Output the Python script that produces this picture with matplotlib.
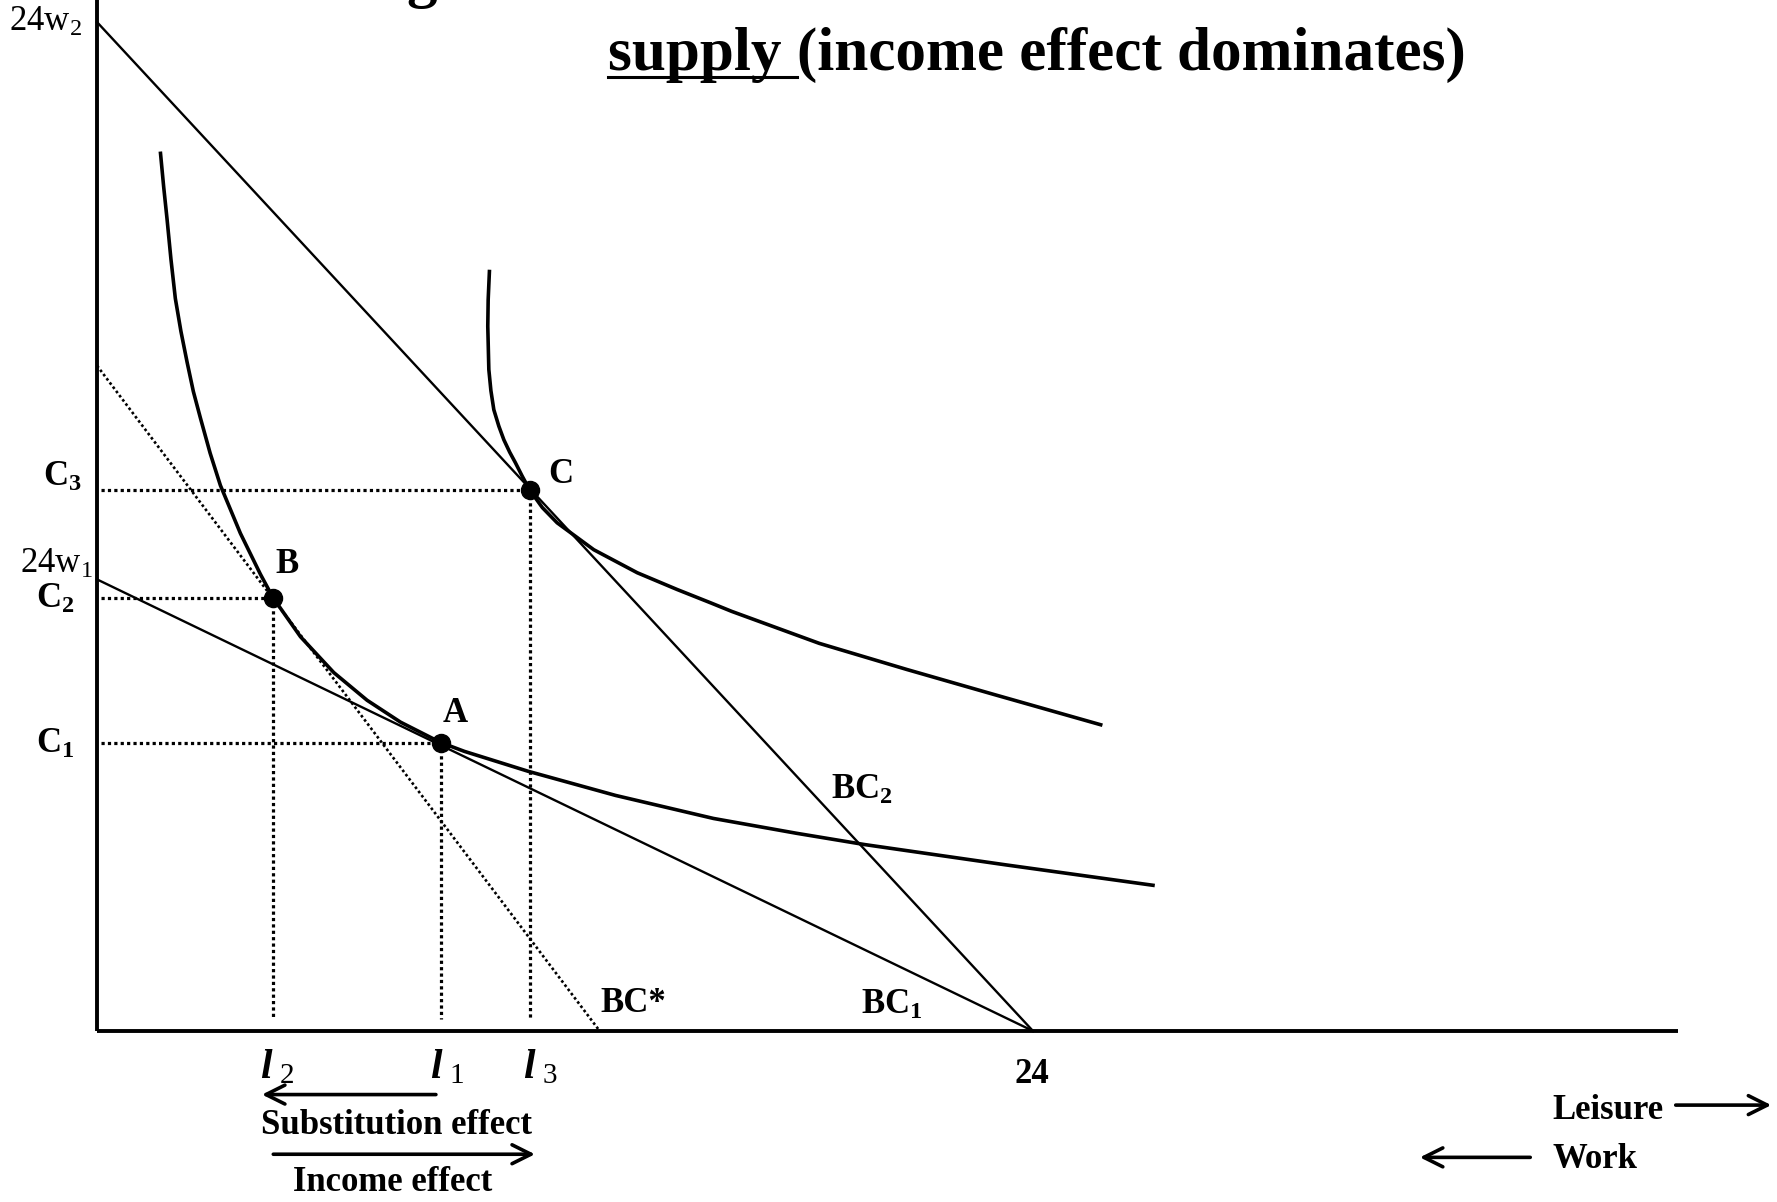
import matplotlib
matplotlib.use("Agg")
import numpy as np
import matplotlib.pyplot as plt

# leisure hours on x, consumption on y (same unit length on both axes)
hours = 24
bc1_top = 11.58      # 24w1
bc2_top = 25.87      # 24w2
bcs_top = 17.06      # BC* intercept on the C axis
bcs_end = 12.89      # BC* intercept on the leisure axis

pt_names = ["A", "B", "C"]
pt_x = [8.81, 4.514, 11.097]
pt_y = [7.38, 11.11, 13.87]

ic1_x = [1.624, 1.710, 1.796, 1.896, 2.009, 2.152, 2.310, 2.470, 2.651, 2.900,
         3.164, 3.677, 4.191, 4.514, 5.217, 6.072, 6.926, 7.781, 8.807, 9.420,
         10.061, 11.053, 13.298, 15.806, 17.935, 19.685, 23.301, 27.122]
ic1_y = [22.55, 21.64, 20.82, 19.79, 18.78, 17.94, 17.15, 16.40, 15.72, 14.82,
         13.99, 12.76, 11.71, 11.11, 10.11, 9.19, 8.48, 7.92, 7.40, 7.17,
         6.97, 6.66, 6.04, 5.45, 5.07, 4.78, 4.26, 3.73]

ic2_x = [10.064, 10.030, 10.020, 10.047, 10.100, 10.175, 10.303, 10.432, 10.583,
         10.729, 10.901, 11.097, 11.420, 11.799, 12.739, 13.853, 14.876, 15.731,
         16.273, 18.518, 20.764, 22.995, 25.780]
ic2_y = [19.52, 18.75, 18.07, 16.96, 16.42, 15.93, 15.51, 15.16, 14.84,
         14.57, 14.23, 13.87, 13.42, 13.03, 12.34, 11.75, 11.32, 10.98,
         10.76, 9.94, 9.27, 8.63, 7.84]

plt.rcParams['font.family'] = ['Liberation Serif', 'DejaVu Serif']
plt.rcParams['mathtext.fontset'] = 'custom'
plt.rcParams['mathtext.rm'] = 'Liberation Serif:bold'
plt.rcParams['mathtext.it'] = 'Liberation Serif:italic:bold'
plt.rcParams['mathtext.bf'] = 'Liberation Serif:bold'

W, H = 1777, 1202
px = 39.0            # pixels per unit
ox, oy = 97, 1031    # origin in pixels

fig = plt.figure(figsize=(W / 100, H / 100), dpi=100)
ax = fig.add_axes([0, 0, 1, 1])
ax.set_xlim(-ox / px, (W - ox) / px)
ax.set_ylim(-(H - oy) / px, oy / px)
ax.axis('off')

# axes
ax.plot([0, 0], [0, oy / px + 1], color='black', lw=2.8, solid_capstyle='butt')
ax.plot([0, 40.54], [0, 0], color='black', lw=2.8, solid_capstyle='butt')

# budget constraints
ax.plot([0, hours], [bc2_top, 0], color='black', lw=1.7)
ax.plot([0, hours], [bc1_top, 0], color='black', lw=1.7)
ax.plot([0, bcs_end], [bcs_top, 0], color='black', lw=1.9, ls=(0, (1, 1)))

# indifference curves
ax.plot(ic1_x, ic1_y, color='black', lw=2.6, solid_capstyle='butt',
        solid_joinstyle='round')
ax.plot(ic2_x, ic2_y, color='black', lw=2.6, solid_capstyle='butt',
        solid_joinstyle='round')

# guide lines to the axes
for x, y in zip(pt_x, pt_y):
    ax.plot([0.1, x], [y, y], color='black', lw=2.3, ls=(0, (1, 1)))
    ax.plot([x, x], [y, 0.3], color='black', lw=2.3, ls=(0, (1, 1)))

ax.plot(pt_x, pt_y, 'o', ms=13, color='black')

lab = dict(fontsize=25, fontweight='bold', color='black')
reg = dict(fontsize=25, color='black')

ax.text(-0.38, 25.87, '24w$_{\\mathregular{2}}$', ha='right', va='center', **reg)
ax.text(-0.10, 11.96, '24w$_{\\mathregular{1}}$', ha='right', va='center', **reg)
ax.text(-0.38, 14.2, 'C$_3$', ha='right', va='center', **lab)
ax.text(-0.58, 11.08, 'C$_2$', ha='right', va='center', **lab)
ax.text(-0.58, 7.35, 'C$_1$', ha='right', va='center', **lab)

for name, x, y in zip(pt_names, [9.19, 4.87, 11.90], [8.14, 11.96, 14.26]):
    ax.text(x, y, name, ha='center', va='center', **lab)

ax.text(18.81, 6.18, 'BC$_2$', ha='left', va='center', **lab)
ax.text(12.92, 0.70, 'BC*', ha='left', va='center', **lab)
ax.text(19.60, 0.67, 'BC$_1$', ha='left', va='center', **lab)

ax.text(23.97, -1.11, '24', ha='center', va='center', **lab)
for name, x in zip(['2', '1', '3'], [4.61, 8.98, 11.37]):
    ax.text(x, -0.96, '$l_{\\ \\mathregular{' + name + '}}$', ha='center',
            va='center', fontsize=30, color='black')

arrow = dict(arrowstyle='->', lw=2.6, color='black', mutation_scale=34,
             shrinkA=0, shrinkB=0)
ax.annotate('', xy=(4.23, -1.63), xytext=(8.69, -1.63), arrowprops=arrow)
ax.text(7.67, -2.42, 'Substitution effect', ha='center', va='center', **lab)
ax.annotate('', xy=(11.23, -3.16), xytext=(4.52, -3.16), arrowprops=arrow)
ax.text(7.58, -3.88, 'Income effect', ha='center', va='center', **lab)

ax.text(37.33, -2.04, 'Leisure', ha='left', va='center', **lab)
ax.annotate('', xy=(42.93, -1.90), xytext=(40.48, -1.90), arrowprops=arrow)
ax.text(37.33, -3.30, 'Work', ha='left', va='center', **lab)
ax.annotate('', xy=(33.92, -3.24), xytext=(36.75, -3.24), arrowprops=arrow)

# title (second line; the first line is cut off at the top of the slide)
tsize = 44
fig.text(406 / W, 1 + 4 / H, 'g', fontsize=tsize, fontweight='bold', va='baseline')
t1 = fig.text(608 / W, 1 - 70 / H, 'supply ', fontsize=tsize, fontweight='bold',
              va='baseline')
fig.canvas.draw()
r = fig.canvas.get_renderer()
e1 = t1.get_window_extent(r)
t2 = fig.text(e1.x1 / W, 1 - 70 / H, '(income effect dominates)', fontsize=tsize,
              fontweight='bold', va='baseline')
uy = (H - 70 - 7) / H
fig.add_artist(plt.Line2D([e1.x0 / W, e1.x1 / W], [uy, uy], color='black', lw=2.2,
                          transform=fig.transFigure))

fig.savefig('out.png', dpi=100)
